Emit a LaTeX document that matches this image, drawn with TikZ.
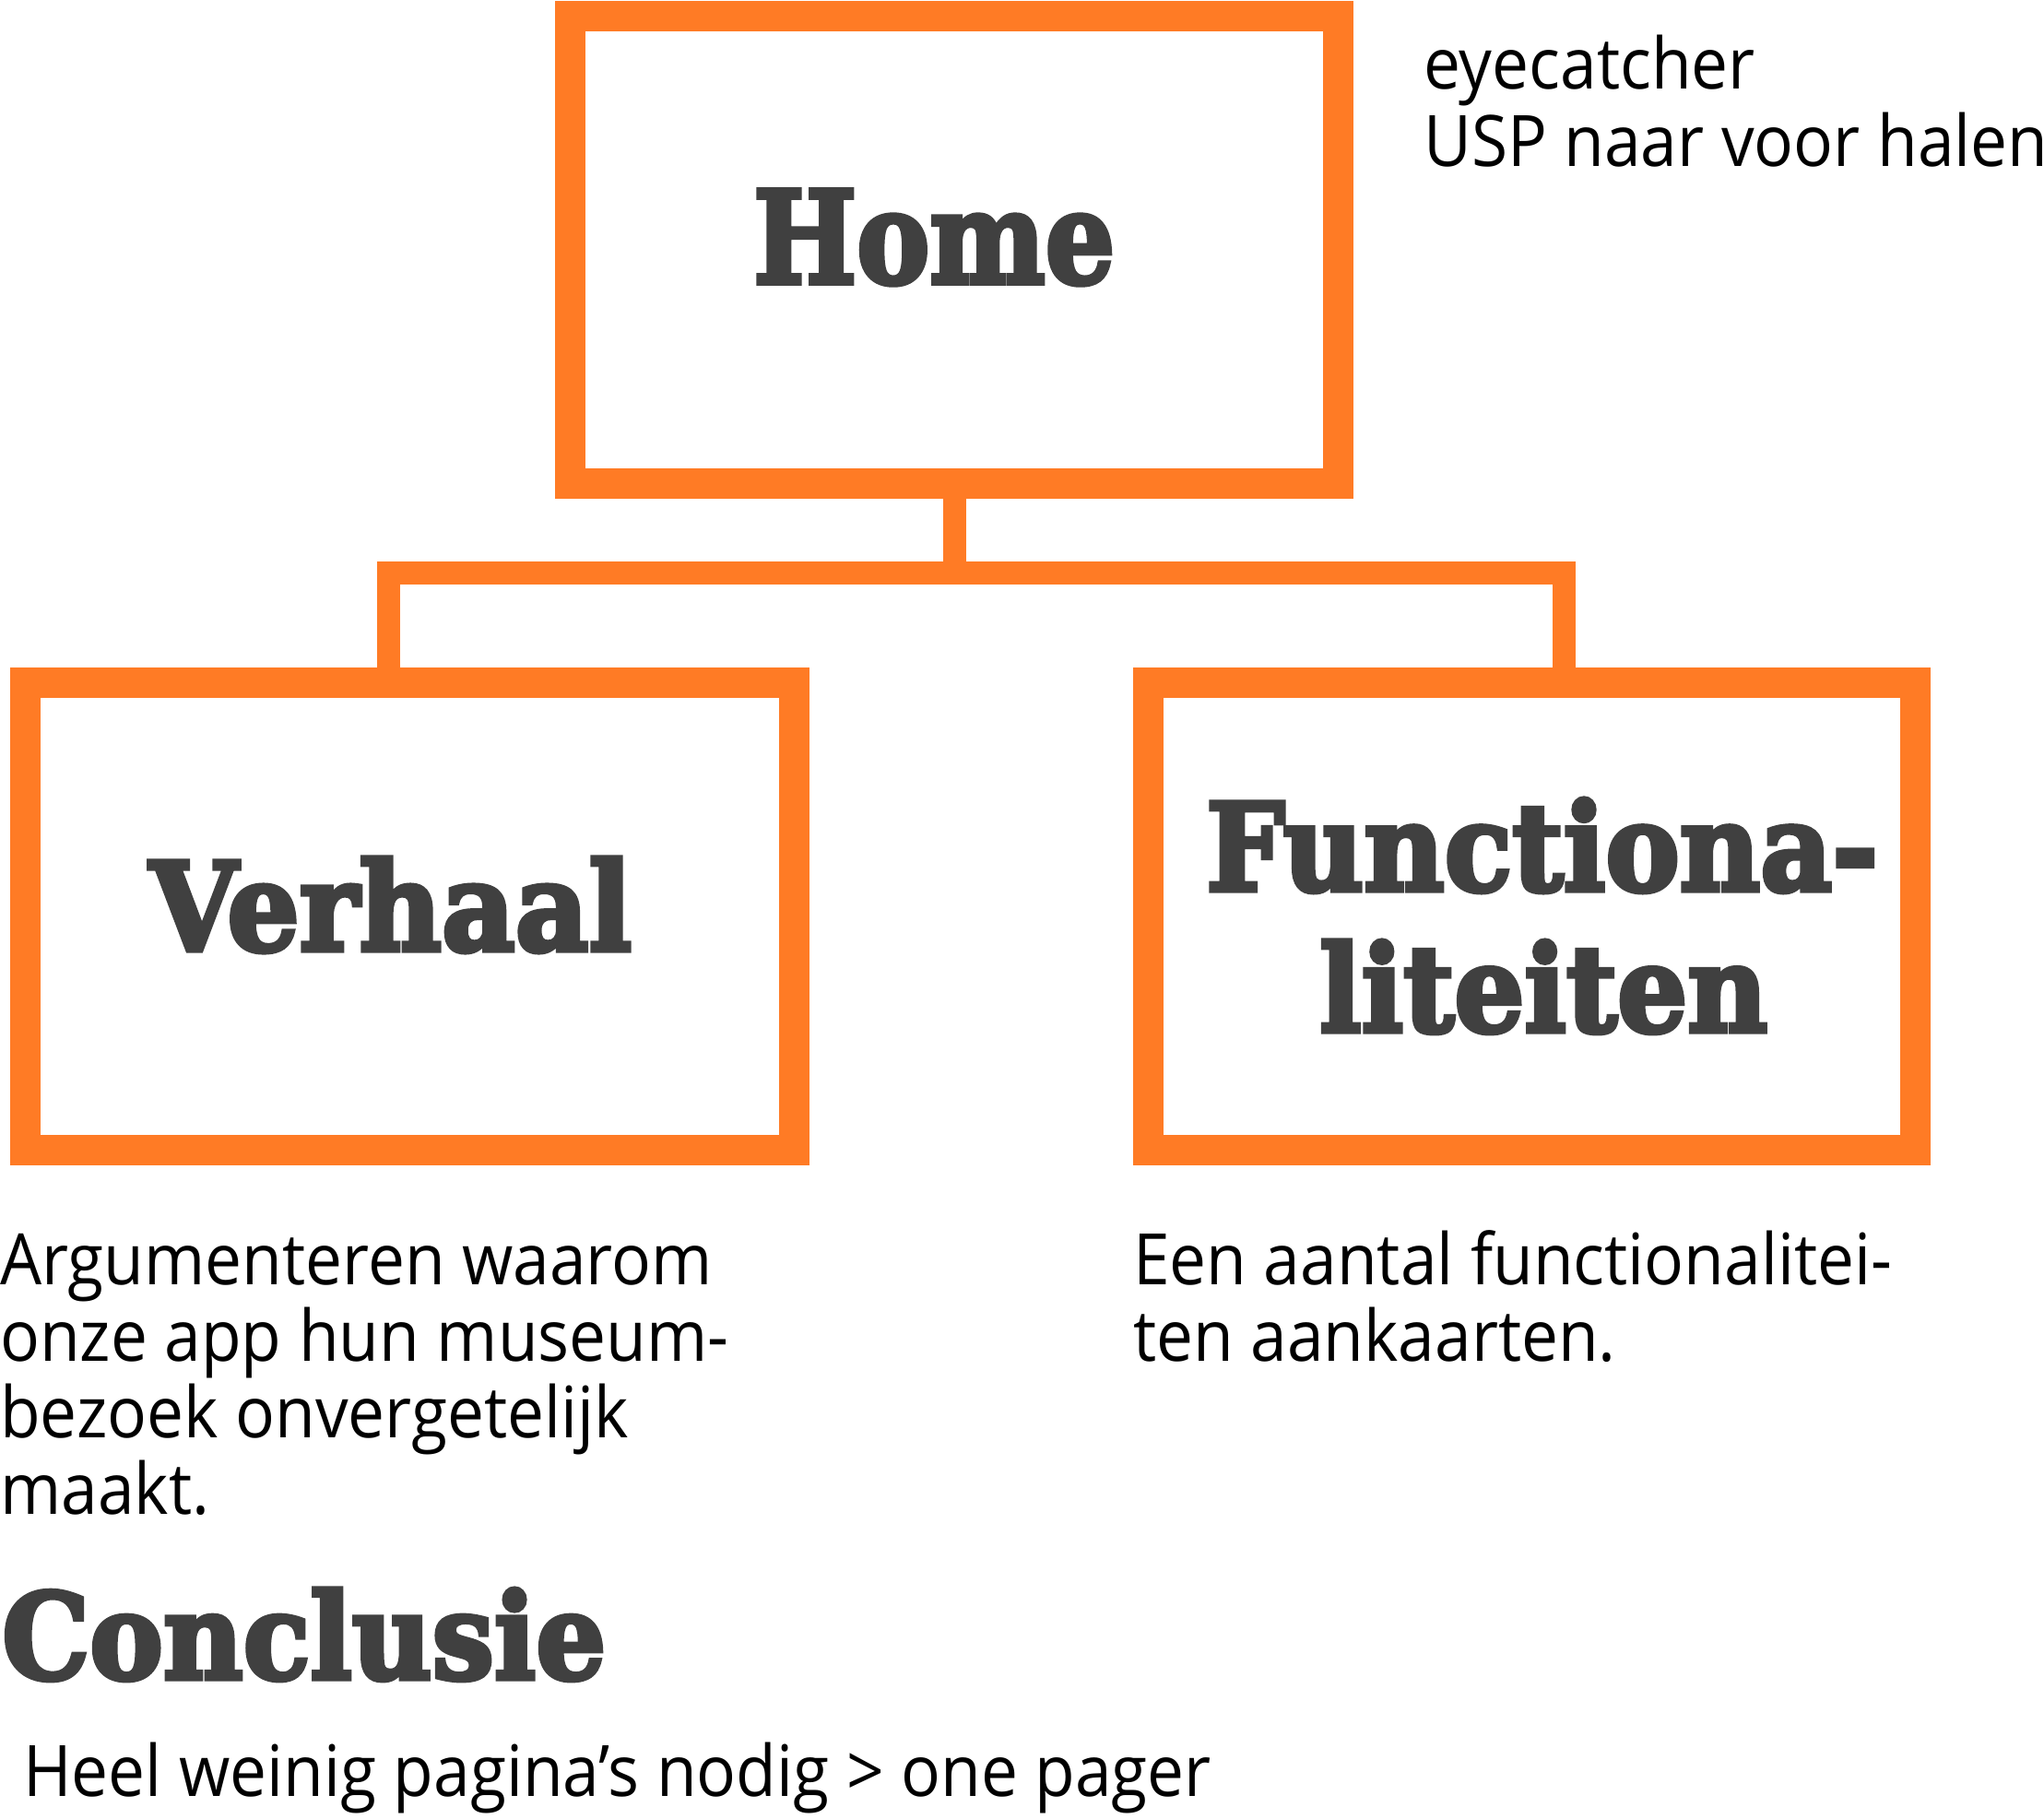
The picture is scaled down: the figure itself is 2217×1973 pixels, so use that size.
\documentclass[tikz,border=0pt]{standalone}
\usepackage{fontspec}
\setmainfont{Open Sans}[FakeStretch=0.925]
\newfontfamily\slab{DejaVu Serif}[BoldFeatures={FakeBold=4}]
\definecolor{orng}{HTML}{FF7B25}
\definecolor{ink}{HTML}{404040}
\begin{document}
\begin{tikzpicture}[x=1pt,y=-1pt,
  box/.style={draw=orng, line width=33pt, inner sep=0pt, minimum width=#1, minimum height=507pt},
  wire/.style={draw=orng, line width=25pt, line join=miter},
  body/.style={anchor=base west, inner sep=0pt, text=black, font=\fontsize{77}{83}\selectfont},
  head/.style={anchor=base west, inner sep=0pt, text=ink, font=\slab\bfseries\fontsize{141}{150}\selectfont}]
\useasboundingbox (0,0) rectangle (2217,1973);
% boxes
\node[box=833pt] (home) at (1035,270.5) {};
\node[box=834pt] (verhaal) at (444.5,993.5) {};
\node[box=832pt] (func) at (1661.5,993.5) {};
% connectors
\coordinate (jl) at (421,621.5);
\coordinate (jr) at (1696,621.5);
\draw[wire] (home.south) -- (home.south |- jl);
\draw[wire] (jl |- verhaal.north) -- (jl) -- (jr) -- (jr |- func.north);
% headings
\node[head] (hometext) at (817,307) {\resizebox{392pt}{101pt}{Home}};
\node[head] (verhaaltext) at (162,1031) {\resizebox{523pt}{101pt}{Verhaal}};
\node[head] (functext1) at (1308,966) {\resizebox{729pt}{100pt}{Functiona-}};
\node[head] (functext2) at (1431,1119) {\resizebox{486pt}{99pt}{liteiten}};
\node[head] (concl) at (2,1821) {\resizebox{655pt}{98pt}{Conclusie}};
% body texts
\node[body] (eye1) at (1544,96) {eyecatcher};
\node[body] (eye2) at (1544,180) {USP naar voor halen};
\node[body] (arg1) at (0,1393) {Argumenteren waarom};
\node[body] (arg2) at (0,1476) {onze app hun museum-};
\node[body] (arg3) at (0,1559) {bezoek onvergetelijk};
\node[body] (arg4) at (0,1642) {maakt.};
\node[body] (een1) at (1229,1393) {Een aantal functionalitei-};
\node[body] (een2) at (1229,1476) {ten aankaarten.};
\node[body] (heel) at (25,1948) {Heel weinig pagina’s nodig > one pager};
\end{tikzpicture}
\end{document}
